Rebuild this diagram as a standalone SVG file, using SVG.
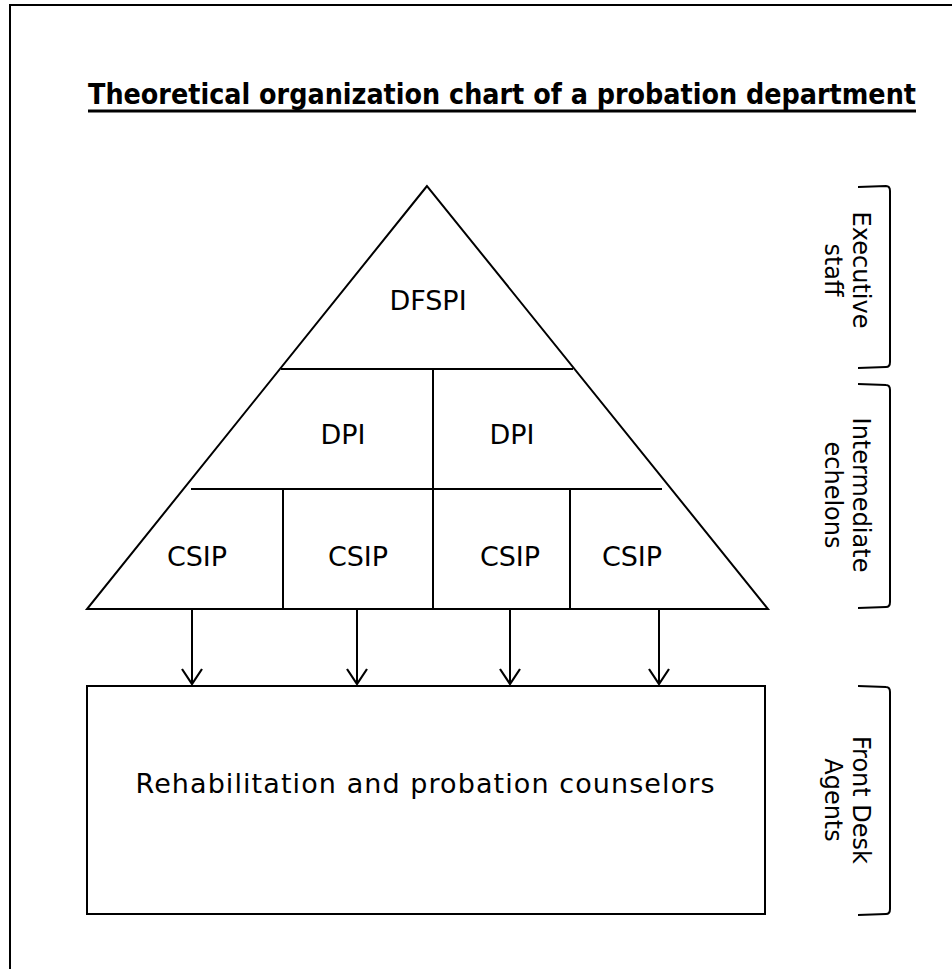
<svg xmlns="http://www.w3.org/2000/svg" width="952" height="969" viewBox="0 0 952 969">
<defs>
<style>
.ln{stroke:#000;stroke-width:2;fill:none}
.t{font-family:"DejaVu Sans","Verdana",sans-serif;font-size:27px;fill:#000;text-anchor:middle}
.side{font-family:"DejaVu Sans","Verdana",sans-serif;font-size:24px;fill:#000;text-anchor:middle}
</style>
<marker id="arr" viewBox="0 0 20 22" refX="18" refY="11" markerWidth="20" markerHeight="22" markerUnits="userSpaceOnUse" orient="auto">
<path d="M3,1 L18,11 L3,21" fill="none" stroke="#000" stroke-width="2.2"/>
</marker>
</defs>
<rect width="952" height="969" fill="#fff"/>
<path d="M10,969 V5 H952" fill="none" stroke="#000" stroke-width="2"/>
<g id="title">
<text x="88" y="104" font-family="DejaVu Sans Condensed, DejaVu Sans, sans-serif" font-weight="bold" font-size="29" textLength="828" lengthAdjust="spacingAndGlyphs">Theoretical organization chart of a probation department</text>
<line x1="88" y1="111" x2="916" y2="111" stroke="#000" stroke-width="3"/>
</g>
<g id="pyramid">
<path class="ln" d="M427,186 L87,609 L768,609 Z"/>
</g>
<g id="dfspi">
<line class="ln" x1="281" y1="369" x2="573" y2="369"/>
<text class="t" x="428" y="310">DFSPI</text>
</g>
<g id="dpi1">
<line class="ln" x1="191" y1="489" x2="662" y2="489"/>
<text class="t" x="343" y="444">DPI</text>
</g>
<g id="dpi2">
<line class="ln" x1="433" y1="369" x2="433" y2="609"/>
<text class="t" x="512" y="444">DPI</text>
</g>
<g id="csip1"><text class="t" x="197" y="566">CSIP</text></g>
<g id="csip2">
<line class="ln" x1="283" y1="489" x2="283" y2="609"/>
<text class="t" x="358" y="566">CSIP</text>
</g>
<g id="csip3"><text class="t" x="510" y="566">CSIP</text></g>
<g id="csip4">
<line class="ln" x1="570" y1="489" x2="570" y2="609"/>
<text class="t" x="632" y="566">CSIP</text>
</g>
<g id="counselors">
<rect class="ln" x="87" y="686" width="678" height="228"/>
<text class="t" x="425" y="793" textLength="579" lengthAdjust="spacing">Rehabilitation and probation counselors</text>
</g>
<g id="connectors">
<line class="ln" x1="192" y1="609" x2="192" y2="684" marker-end="url(#arr)"/>
<line class="ln" x1="357" y1="609" x2="357" y2="684" marker-end="url(#arr)"/>
<line class="ln" x1="510" y1="609" x2="510" y2="684" marker-end="url(#arr)"/>
<line class="ln" x1="659" y1="609" x2="659" y2="684" marker-end="url(#arr)"/>
</g>
<g id="exec">
<path class="ln" d="M858,187 L886,186 Q890,186 890,191 V362 Q890,367 886,367 L858,368"/>
<text class="side" transform="translate(853,270) rotate(90)"><tspan x="0" y="0">Executive</tspan><tspan x="0" y="28">staff</tspan></text>
</g>
<g id="inter">
<path class="ln" d="M858,384 L886,385 Q890,385 890,390 V602 Q890,607 886,607 L858,608"/>
<text class="side" transform="translate(853,495) rotate(90)"><tspan x="0" y="0">Intermediate</tspan><tspan x="0" y="28">echelons</tspan></text>
</g>
<g id="front">
<path class="ln" d="M858,686 L886,687 Q890,687 890,692 V909 Q890,914 886,914 L858,915"/>
<text class="side" transform="translate(853,800) rotate(90)"><tspan x="0" y="0">Front Desk</tspan><tspan x="0" y="28">Agents</tspan></text>
</g>
</svg>
